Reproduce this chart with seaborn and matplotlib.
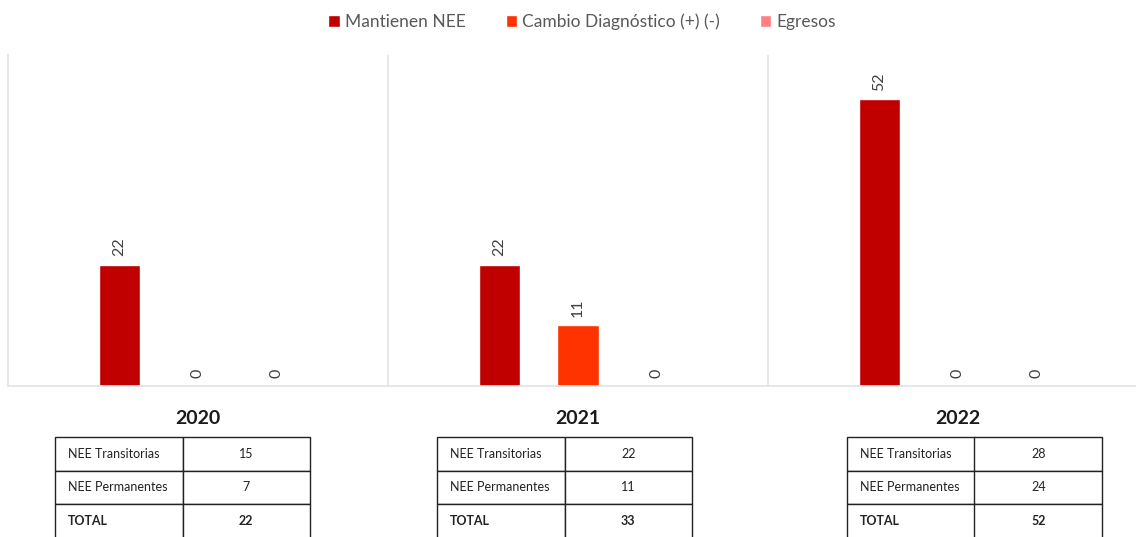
import numpy as np
import pandas as pd
import seaborn as sb
from matplotlib import pyplot as plt

# data
years = ['2020', '2021', '2022']
series = ['Mantienen NEE', 'Cambio Diagnóstico (+) (-)', 'Egresos']
mantienen = [22, 22, 52]
cambio = [0, 11, 0]
egresos = [0, 0, 0]

row_labels = ['NEE Transitorias', 'NEE Permanentes', 'TOTAL']
transitorias = [15, 22, 28]
permanentes = [7, 11, 24]
totals = [22, 33, 52]

colors = ['#C00000', '#FF3300', '#FF8080']

df = pd.DataFrame({
    'year': np.repeat(years, 3),
    'serie': series * 3,
    'value': np.ravel(np.column_stack([mantienen, cambio, egresos])),
})

sb.set_theme(style='white')
plt.rcParams['font.family'] = ['Lato', 'DejaVu Sans']

fig = plt.figure(figsize=(11.36, 5.37), dpi=100)
ax = fig.add_axes([8 / 1136, 151 / 537, 1140 / 1136, 331 / 537])

sb.barplot(data=df, x='year', y='value', hue='serie', palette=colors,
           saturation=1, width=0.62, gap=0.47, ax=ax, legend=True)

ax.set_xlim(-0.5, 2.5)
ax.set_ylim(0, 60)
ax.set_xlabel('')
ax.set_ylabel('')
ax.set_yticks([])
ax.tick_params(axis='x', length=0, pad=17, labelsize=14)
for lab in ax.get_xticklabels():
    lab.set_fontweight('bold')
    lab.set_color('#1a1a1a')

for s in ['top', 'right']:
    ax.spines[s].set_visible(False)
for s in ['left', 'bottom']:
    ax.spines[s].set_color('#e3e3e3')
    ax.spines[s].set_linewidth(1.2)
for xv in [0.5, 1.5]:
    ax.axvline(xv, color='#e3e3e3', lw=1.2, zorder=0)

for cont in ax.containers:
    ax.bar_label(cont, rotation=90, padding=6, fontsize=11.5, color='#404040')

# legend on top
handles, labels = ax.get_legend_handles_labels()
ax.legend_.remove()
fig.legend(handles, labels, loc='center', ncol=3,
           bbox_to_anchor=(582 / 1136, 1 - 22 / 537), frameon=False,
           fontsize=12.5, handlelength=0.65, handleheight=0.65,
           handletextpad=0.3, columnspacing=2.3, labelcolor='#595959')

# small tables under each year
tab_left = [55, 437, 847]
for i, yr in enumerate(years):
    cells = [[row_labels[0], str(transitorias[i])],
             [row_labels[1], str(permanentes[i])],
             [row_labels[2], str(totals[i])]]
    x0 = (tab_left[i] - 8) / 1140
    w = 255 / 1140
    tb = ax.table(cellText=cells, colWidths=[0.5, 0.5],
                  bbox=[x0, (386 - 538) / 331, w, 101 / 331])
    tb.auto_set_font_size(False)
    tb.set_fontsize(9)
    for (r, c), cell in tb.get_celld().items():
        cell.set_edgecolor('#222222')
        cell.set_linewidth(1.0)
        cell.set_text_props(ha='left' if c == 0 else 'center', color='#222222')
        cell._loc = 'left' if c == 0 else 'center'
        if r == 2:
            cell.set_text_props(fontweight='bold')

fig.savefig('out.png', dpi=100)
